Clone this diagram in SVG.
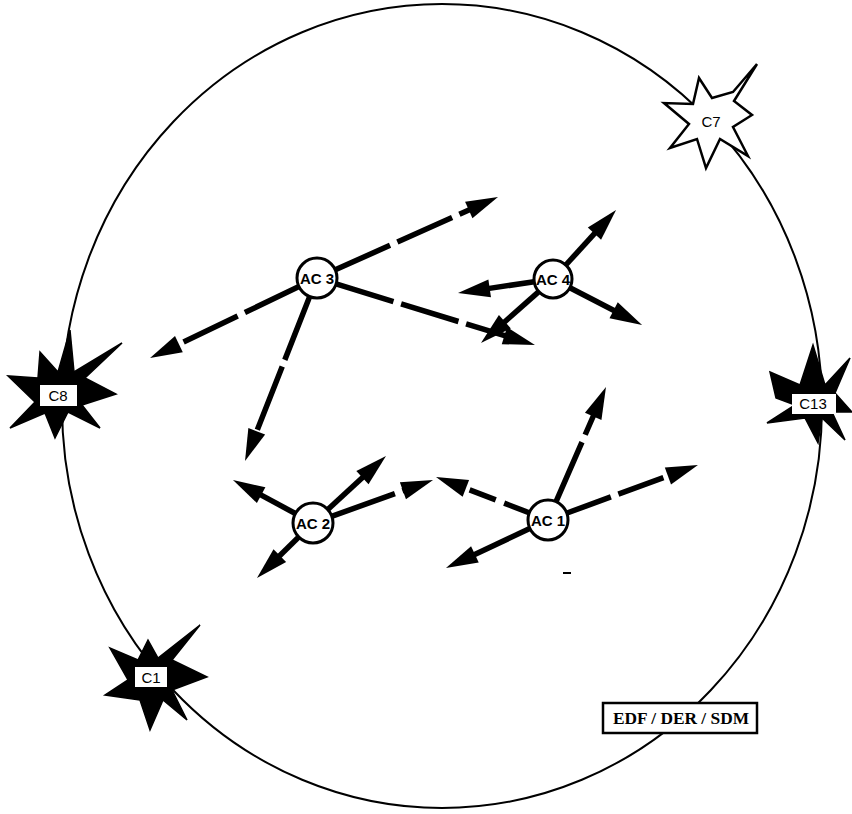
<svg xmlns="http://www.w3.org/2000/svg" width="852" height="814" viewBox="0 0 852 814">
<style>
.shaft{stroke:#000;stroke-width:5.5;fill:none;marker-end:url(#ah)}
.dash{stroke-dasharray:60 8}
.node circle{fill:#fff;stroke:#000;stroke-width:3}
.lbl{font-family:"Liberation Sans",Arial,sans-serif;font-size:15px;font-weight:bold;text-anchor:middle;fill:#000}
.star{fill:#000;stroke:#000;stroke-width:1.5;stroke-linejoin:miter}
.tag{fill:#fff;stroke:none}
.ctext{font-family:"Liberation Sans",Arial,sans-serif;font-size:15px;text-anchor:middle;fill:#000}
</style>
<defs>
<marker id="ah" markerUnits="userSpaceOnUse" markerWidth="40" markerHeight="24" refX="2" refY="0" viewBox="0 -12 40 24" orient="auto" overflow="visible">
<path d="M0,-9 L32,0 L0,9 Z" fill="#000"/>
</marker>
</defs>
<rect width="852" height="814" fill="#fff"/>
<ellipse id="boundary" cx="442" cy="406" rx="380" ry="402" fill="none" stroke="#000" stroke-width="2"/>

<g id="connectors">
<path class="shaft dash" d="M335.3,269.8 L470.6,209.2"/>
<path class="shaft dash" d="M299,286.6 L177.1,345"/>
<path class="shaft dash" d="M336.1,283.9 L506.3,336.2"/>
<path class="shaft" style="stroke-dasharray:68 7" d="M309.7,296.6 L256,433.1"/>
<path class="shaft" d="M565.8,265 L595.8,232.2"/>
<path class="shaft" d="M534.2,281.8 L487.7,288.6"/>
<path class="shaft" d="M538.8,291.6 L503.4,323"/>
<path class="shaft" d="M569.9,287.7 L615.4,311.2"/>
<path class="shaft" d="M296.3,514 L259.4,494.2"/>
<path class="shaft" d="M327,510.2 L363.9,476.3"/>
<path class="shaft" style="stroke-dasharray:68 8" d="M330.9,516.6 L404.8,490.1"/>
<path class="shaft" d="M299.5,536.3 L278.4,557"/>
<path class="shaft" style="stroke-dasharray:66 8" d="M555.6,502.6 L594,414.5"/>
<path class="shaft" style="stroke-dasharray:48 8" d="M565.8,513.5 L669.8,475.3"/>
<path class="shaft" style="stroke-dasharray:28 9" d="M530.3,513.2 L464,487.7"/>
<path class="shaft" d="M530.8,528.1 L473.1,555.2"/>
</g>

<g id="AC3" class="node"><circle cx="317" cy="278" r="20"/><text class="lbl" x="317" y="283.5">AC 3</text></g>
<g id="AC4" class="node"><circle cx="553" cy="279" r="19"/><text class="lbl" x="553" y="284.5">AC 4</text></g>
<g id="AC2" class="node"><circle cx="313" cy="523" r="20"/><text class="lbl" x="313" y="528.5">AC 2</text></g>
<g id="AC1" class="node"><circle cx="548" cy="520" r="20"/><text class="lbl" x="548" y="525.5">AC 1</text></g>

<g id="C7">
<polygon points="757,64 734,101 752,115 733,127 748,156 720,139 706,168 697,139 670,148 689,124 664,103 693,104 699,78 712,98 733,92" fill="#fff" stroke="#000" stroke-width="2.5" stroke-linejoin="miter"/>
<text class="ctext" x="711" y="127">C7</text>
</g>

<g id="C8">
<polygon class="star" points="122,343 85,378 116,394 82,405 100,428 68,412 55,438 45,413 10,428 35,402 8,376 38,378 40,352 58,372 70,330 74,372"/>
<rect class="tag" x="40" y="385" width="37" height="21"/>
<text class="ctext" x="58" y="401">C8</text>
</g>

<g id="C13">
<polygon class="star" points="770,372 800,385 813,345 825,385 850,358 835,393 852,412 832,412 845,440 822,418 818,443 805,418 767,423 795,405 776,398"/>
<rect class="tag" x="792" y="394" width="44" height="20"/>
<text class="ctext" x="813" y="409">C13</text>
</g>

<g id="C1">
<polygon class="star" points="200,625 172,660 207,677 172,690 187,720 163,700 150,730 140,700 105,695 128,680 110,648 138,660 148,640 158,658"/>
<rect class="tag" x="135" y="667" width="32" height="20"/>
<text class="ctext" x="151" y="683">C1</text>
</g>

<g id="legend">
<rect x="603" y="703" width="154" height="30" fill="#fff" stroke="#000" stroke-width="2.5"/>
<text x="681" y="724" font-family="'Liberation Serif','Times New Roman',serif" font-size="16" font-weight="bold" text-anchor="middle" textLength="136" lengthAdjust="spacingAndGlyphs">EDF / DER / SDM</text>
</g>
<rect x="563" y="572" width="8" height="2" fill="#000"/>
</svg>
